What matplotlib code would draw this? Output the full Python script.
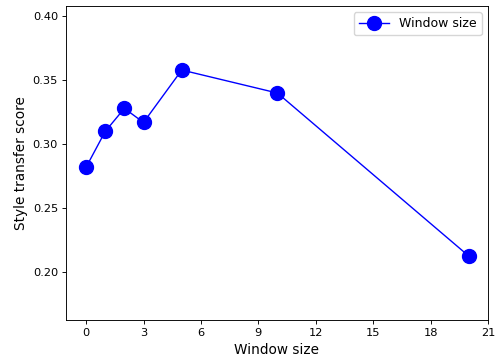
import matplotlib
matplotlib.use("Agg")
import matplotlib.pyplot as plt

window_sizes = [0, 1, 2, 3, 5, 10, 20]
scores = [0.282, 0.310, 0.328, 0.317, 0.358, 0.340, 0.2125]

# reference looks like a default figure shrunk by ~0.82
s = 0.82
plt.rcParams["xtick.major.size"] = 3.5 * s
plt.rcParams["ytick.major.size"] = 3.5 * s
plt.rcParams["xtick.major.pad"] = 3.5 * s
plt.rcParams["ytick.major.pad"] = 3.5 * s
plt.rcParams["axes.linewidth"] = 0.8 * s
plt.rcParams["xtick.major.width"] = 0.8 * s
plt.rcParams["ytick.major.width"] = 0.8 * s

fig = plt.figure(figsize=(4.97, 3.58), dpi=100)
ax = fig.add_axes([0.1328, 0.106, 0.849, 0.877])
ax.plot(window_sizes, scores, color="blue", marker="o", markersize=10,
        linewidth=1, label="Window size")
ax.set_xlim(-1.05, 21)
ax.set_ylim(0.1625, 0.408)
ax.set_xticks(range(0, 22, 3))
ax.set_yticks([0.20, 0.25, 0.30, 0.35, 0.40])
ax.tick_params(labelsize=10 * s)
ax.set_xlabel("Window size", fontsize=12 * s, labelpad=4 * s)
ax.set_ylabel("Style transfer score", fontsize=12 * s, labelpad=4 * s)
ax.legend(loc="upper right", fontsize=11 * s, handlelength=2.4)

fig.savefig("out.png", dpi=100)
